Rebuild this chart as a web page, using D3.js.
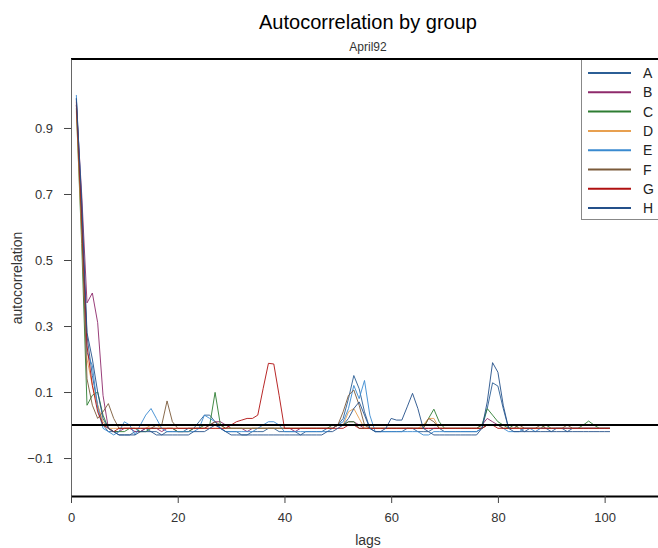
<!DOCTYPE html>
<html>
<head>
<meta charset="utf-8">
<script src="https://cdn.jsdelivr.net/npm/d3@7"></script>
<style>
  body { margin: 0; background: #fff; }
  text { font-family: "Liberation Sans", Arial, sans-serif; }
</style>
</head>
<body>
<div id="chart"></div>
<script>
// groups and their colours
var groups = ["A", "B", "C", "D", "E", "F", "G", "H"];
var colours = ["#2b5e95", "#8e2a6b", "#2e7d32", "#e8a050", "#3a8ad0", "#7b5a3a", "#b01010", "#24508a"];

// lags 1..101
var lags = d3.range(1, 102);

// autocorrelation per group, one value per lag
var acfA = [0.99, 0.62, 0.27, 0.15, 0.06, 0.00, -0.02, -0.02, -0.03, -0.03,
  -0.03, -0.02, -0.02, -0.01, -0.02, -0.02, -0.03, -0.02, -0.02, -0.02,
  -0.02, -0.01, -0.01, 0.01, 0.03, 0.03, 0.01, -0.01, -0.02, -0.02,
  -0.02, -0.03, -0.03, -0.02, -0.02, -0.02, -0.01, -0.01, -0.02, -0.02,
  -0.02, -0.02, -0.03, -0.02, -0.02, -0.02, -0.02, -0.01, -0.01, 0.00,
  0.02, 0.08, 0.15, 0.11, 0.04, -0.01, -0.02, -0.02, -0.02, -0.02,
  -0.02, -0.02, -0.01, -0.01, -0.02, -0.02, -0.02, -0.01, -0.01, -0.02,
  -0.02, -0.02, -0.02, -0.02, -0.02, -0.02, -0.01, 0.05, 0.128, 0.118,
  0.05, -0.01, -0.01, -0.01, -0.02, -0.01, -0.01, -0.01, -0.01, -0.02,
  -0.01, -0.01, -0.02, -0.01, -0.01, -0.01, -0.01, -0.01, -0.01, -0.01,
  -0.01];
var acfB = [0.97, 0.70, 0.37, 0.40, 0.31, 0.09, -0.01, -0.02, -0.02, -0.01,
  -0.01, -0.02, -0.02, -0.01, -0.01, -0.01, -0.02, -0.01, -0.01, -0.02,
  -0.02, -0.02, -0.01, -0.01, -0.01, 0.00, 0.01, 0.01, 0.00, -0.01,
  -0.01, -0.01, -0.02, -0.01, -0.01, -0.01, -0.01, -0.01, -0.01, -0.01,
  -0.01, -0.02, -0.01, -0.01, -0.01, -0.01, -0.01, -0.01, -0.01, 0.00,
  0.00, 0.01, 0.01, 0.00, -0.01, -0.01, -0.01, -0.01, -0.01, -0.01,
  -0.01, -0.01, -0.01, -0.01, -0.01, -0.01, -0.01, -0.01, -0.01, -0.01,
  -0.01, -0.01, -0.01, -0.01, -0.01, -0.01, 0.00, 0.02, 0.01, 0.00,
  -0.01, -0.01, -0.01, -0.01, -0.01, -0.01, -0.01, -0.01, -0.01, -0.01,
  -0.01, -0.01, -0.01, -0.01, -0.01, -0.01, -0.01, -0.01, -0.01, -0.01,
  -0.01];
var acfC = [0.96, 0.55, 0.06, 0.09, 0.10, 0.03, -0.01, -0.02, -0.02, -0.02,
  -0.01, -0.01, -0.02, -0.02, -0.01, -0.01, -0.01, -0.01, -0.01, -0.02,
  -0.02, -0.02, -0.01, -0.01, 0.00, 0.00, 0.099, 0.00, -0.01, -0.01,
  -0.01, -0.01, -0.01, -0.01, -0.01, -0.01, -0.01, -0.01, -0.01, -0.01,
  -0.01, -0.01, -0.01, -0.01, -0.01, -0.01, -0.01, -0.01, 0.00, 0.00,
  0.00, 0.01, 0.01, -0.01, -0.01, -0.01, -0.01, -0.01, -0.01, -0.01,
  -0.01, -0.01, -0.01, -0.01, -0.01, -0.01, 0.02, 0.048, 0.01, -0.01,
  -0.01, -0.01, -0.01, -0.01, -0.01, -0.01, 0.00, 0.05, 0.03, 0.01,
  0.00, -0.01, 0.00, -0.01, -0.01, -0.01, -0.01, -0.01, 0.00, -0.01,
  -0.01, -0.01, -0.01, -0.01, -0.01, 0.00, 0.012, 0.00, -0.01, -0.01,
  -0.01];
var acfD = [0.95, 0.58, 0.20, 0.12, 0.06, 0.01, -0.01, -0.01, -0.01, -0.01,
  -0.01, -0.01, -0.01, -0.01, 0.00, 0.00, -0.01, -0.01, -0.01, -0.01,
  -0.01, -0.01, -0.01, -0.01, -0.01, -0.01, -0.01, -0.01, -0.01, -0.01,
  -0.01, -0.01, -0.01, -0.01, -0.01, -0.01, -0.01, -0.01, -0.01, -0.01,
  -0.01, -0.01, -0.01, -0.01, -0.01, -0.01, -0.01, -0.01, -0.01, 0.00,
  0.00, 0.04, 0.05, 0.02, -0.01, -0.01, -0.01, -0.01, -0.01, -0.01,
  -0.01, -0.01, -0.01, -0.01, -0.01, 0.00, 0.02, 0.02, -0.01, -0.01,
  -0.01, -0.01, -0.01, -0.01, -0.01, -0.01, -0.01, 0.00, 0.00, 0.00,
  -0.01, -0.01, -0.01, -0.01, -0.01, -0.01, -0.01, -0.01, -0.01, -0.01,
  -0.01, -0.01, -0.01, -0.01, -0.01, -0.01, -0.01, -0.01, -0.01, -0.01,
  -0.01];
var acfE = [1.00, 0.66, 0.22, 0.18, 0.05, -0.01, -0.02, -0.03, -0.02, 0.01,
  0.00, -0.03, 0.00, 0.03, 0.05, 0.02, -0.01, -0.02, -0.02, -0.02,
  -0.02, -0.02, -0.02, -0.01, 0.03, 0.02, 0.01, -0.01, -0.02, -0.02,
  -0.02, -0.02, -0.02, -0.02, -0.01, 0.00, 0.01, 0.01, 0.00, -0.02,
  -0.02, -0.02, -0.02, -0.02, -0.02, -0.02, -0.02, -0.02, -0.01, 0.00,
  0.01, 0.05, 0.12, 0.08, 0.135, 0.03, -0.02, -0.02, -0.02, -0.02,
  -0.02, -0.02, -0.02, -0.02, -0.02, -0.03, -0.03, -0.02, -0.02, -0.02,
  -0.02, -0.02, -0.02, -0.02, -0.02, -0.02, -0.01, 0.00, 0.00, 0.00,
  -0.01, -0.02, -0.02, -0.02, -0.01, -0.01, -0.02, -0.01, -0.01, -0.01,
  -0.01, -0.01, -0.01, -0.01, -0.01, -0.01, -0.01, -0.01, -0.01, -0.01,
  -0.01];
var acfF = [0.97, 0.60, 0.14, 0.06, 0.02, 0.04, 0.065, 0.02, -0.01, -0.01,
  -0.01, -0.01, -0.01, -0.01, -0.01, 0.00, 0.00, 0.073, 0.01, -0.01,
  -0.01, -0.01, -0.01, -0.01, -0.01, 0.00, 0.01, 0.00, -0.01, -0.01,
  -0.01, -0.01, -0.01, -0.01, -0.01, -0.01, -0.01, -0.01, -0.01, -0.01,
  -0.01, -0.01, -0.01, -0.01, -0.01, -0.01, -0.01, -0.01, -0.01, 0.00,
  0.04, 0.09, 0.106, 0.06, 0.00, -0.01, -0.01, -0.01, -0.01, -0.01,
  -0.01, -0.01, -0.01, -0.01, -0.01, -0.01, 0.02, 0.01, -0.01, -0.01,
  -0.01, -0.01, -0.01, -0.01, -0.01, -0.01, -0.01, 0.00, 0.00, 0.00,
  -0.01, -0.01, -0.01, 0.00, -0.01, -0.01, -0.01, 0.00, -0.01, -0.01,
  -0.01, -0.01, 0.00, -0.01, -0.01, -0.01, -0.01, -0.01, -0.01, -0.01,
  -0.01];
var acfG = [0.98, 0.64, 0.24, 0.12, 0.04, 0.00, -0.01, -0.02, -0.01, -0.01,
  -0.01, -0.01, -0.01, -0.01, -0.01, -0.01, -0.01, -0.01, -0.01, -0.01,
  -0.01, -0.01, -0.01, -0.01, -0.01, -0.01, -0.01, -0.01, -0.01, 0.00,
  0.01, 0.015, 0.02, 0.02, 0.03, 0.11, 0.187, 0.185, 0.09, -0.01,
  -0.01, -0.01, -0.01, -0.01, -0.01, -0.01, -0.01, -0.01, -0.01, -0.01,
  -0.01, 0.00, 0.00, -0.01, -0.01, -0.01, -0.01, -0.01, -0.01, -0.01,
  -0.01, -0.01, -0.01, -0.01, -0.01, -0.01, -0.01, -0.01, -0.01, -0.01,
  -0.01, -0.01, -0.01, -0.01, -0.01, -0.01, -0.01, 0.00, 0.00, -0.01,
  -0.01, -0.01, -0.01, -0.01, -0.01, -0.01, -0.01, -0.01, -0.01, -0.01,
  -0.01, -0.01, -0.01, -0.01, -0.01, -0.01, -0.01, -0.01, -0.01, -0.01,
  -0.01];
var acfH = [0.99, 0.68, 0.28, 0.20, 0.10, 0.02, -0.01, -0.02, -0.03, -0.03,
  -0.03, -0.03, -0.02, -0.02, -0.02, -0.03, -0.03, -0.03, -0.03, -0.03,
  -0.03, -0.03, -0.02, -0.02, -0.02, -0.01, 0.00, -0.01, -0.02, -0.03,
  -0.03, -0.03, -0.03, -0.03, -0.03, -0.03, -0.03, -0.03, -0.03, -0.03,
  -0.03, -0.03, -0.03, -0.03, -0.03, -0.03, -0.03, -0.02, -0.02, -0.01,
  0.00, 0.02, 0.05, 0.07, 0.03, -0.01, -0.02, -0.02, -0.01, 0.02,
  0.015, 0.015, 0.055, 0.096, 0.05, -0.01, -0.02, -0.03, -0.03, -0.03,
  -0.03, -0.03, -0.03, -0.03, -0.03, -0.03, -0.01, 0.07, 0.189, 0.16,
  0.06, -0.01, -0.02, -0.02, -0.02, -0.02, -0.02, -0.02, -0.02, -0.02,
  -0.02, -0.02, -0.02, -0.02, -0.02, -0.02, -0.02, -0.02, -0.02, -0.02,
  -0.02];

var yTicks = [-0.1, 0.1, 0.3, 0.5, 0.7, 0.9];
var xTicks = [0, 20, 40, 60, 80, 100];

var series = [acfA, acfB, acfC, acfD, acfE, acfF, acfG, acfH];

// set the dimensions and margins of the graph
var W = 658, H = 548;
var margin = {top: 59, right: 0, bottom: 52, left: 71},
    width = W - margin.left - margin.right,
    height = H - margin.top - margin.bottom;

var x = d3.scaleLinear().domain([0, 110]).range([0, width]);
var y = d3.scaleLinear().domain([-0.215, 1.109]).range([height, 0]);

var svg = d3.select("#chart").append("svg")
    .attr("width", W)
    .attr("height", H);

// titles
svg.append("text")
    .attr("x", 368).attr("y", 29)
    .attr("text-anchor", "middle")
    .style("font-size", "20px")
    .text("Autocorrelation by group");
svg.append("text")
    .attr("x", 368).attr("y", 51)
    .attr("text-anchor", "middle")
    .style("font-size", "12px")
    .style("fill", "#333")
    .text("April92");

var g = svg.append("g")
    .attr("transform", "translate(" + margin.left + "," + margin.top + ")");

g.append("clipPath").attr("id", "clip")
  .append("rect").attr("width", width).attr("height", height);

// the lines
var valueline = d3.line()
    .x(function(d, i) { return x(lags[i]); })
    .y(function(d) { return y(d); });

g.append("g").attr("clip-path", "url(#clip)")
  .selectAll("path")
    .data(series)
  .enter().append("path")
    .style("fill", "none")
    .style("stroke", function(d, i) { return colours[i]; })
    .style("stroke-width", "1px")
    .style("stroke-opacity", 0.9)
    .attr("d", valueline);

// zero line
g.append("line")
    .attr("x1", 0).attr("x2", width)
    .attr("y1", y(0)).attr("y2", y(0))
    .style("stroke", "#000").style("stroke-width", "2px");

// top frame line
g.append("line")
    .attr("x1", 0).attr("x2", width)
    .attr("y1", 0).attr("y2", 0)
    .style("stroke", "#000").style("stroke-width", "2px");

// Y axis
var yAxis = g.append("g")
    .call(d3.axisLeft(y).tickValues(yTicks).tickSize(7).tickSizeOuter(0)
      .tickFormat(d3.format(".1f")));
yAxis.select(".domain").style("stroke", "#666");
yAxis.selectAll(".tick line").style("stroke", "#444");
yAxis.selectAll(".tick text").style("font-size", "13px").style("fill", "#333")
    .attr("x", -18);

// X axis
var xAxis = g.append("g")
    .attr("transform", "translate(0," + height + ")")
    .call(d3.axisBottom(x).tickValues(xTicks).tickSize(7).tickSizeOuter(0));
xAxis.select(".domain").style("stroke", "#000").style("stroke-width", "2px");
xAxis.selectAll(".tick line").style("stroke", "#444");
xAxis.selectAll(".tick text").style("font-size", "13px").style("fill", "#333")
    .attr("y", 17);

// axis labels
svg.append("text")
    .attr("x", 368).attr("y", 545)
    .attr("text-anchor", "middle")
    .style("font-size", "14px")
    .style("fill", "#333")
    .text("lags");
svg.append("text")
    .attr("transform", "translate(22,278) rotate(-90)")
    .attr("text-anchor", "middle")
    .style("font-size", "14px")
    .style("fill", "#333")
    .text("autocorrelation");

// legend
var legend = svg.append("g");
legend.append("rect")
    .attr("x", 581.5).attr("y", 59.5)
    .attr("width", 90).attr("height", 160)
    .style("fill", "#fff").style("stroke", "#888");
var rows = legend.selectAll("g.row")
    .data(groups)
  .enter().append("g")
    .attr("class", "row")
    .attr("transform", function(d, i) { return "translate(0," + (73 + i * 19.3) + ")"; });
rows.append("line")
    .attr("x1", 588).attr("x2", 631)
    .style("stroke", function(d, i) { return colours[i]; })
    .style("stroke-width", "2px");
rows.append("text")
    .attr("x", 643).attr("y", 5)
    .style("font-size", "14px")
    .style("fill", "#222")
    .text(function(d) { return d; });
// legend sits over the top frame line, redraw it
svg.append("line")
    .attr("x1", 580).attr("x2", W)
    .attr("y1", 59).attr("y2", 59)
    .style("stroke", "#000").style("stroke-width", "2px");
</script>
</body>
</html>
